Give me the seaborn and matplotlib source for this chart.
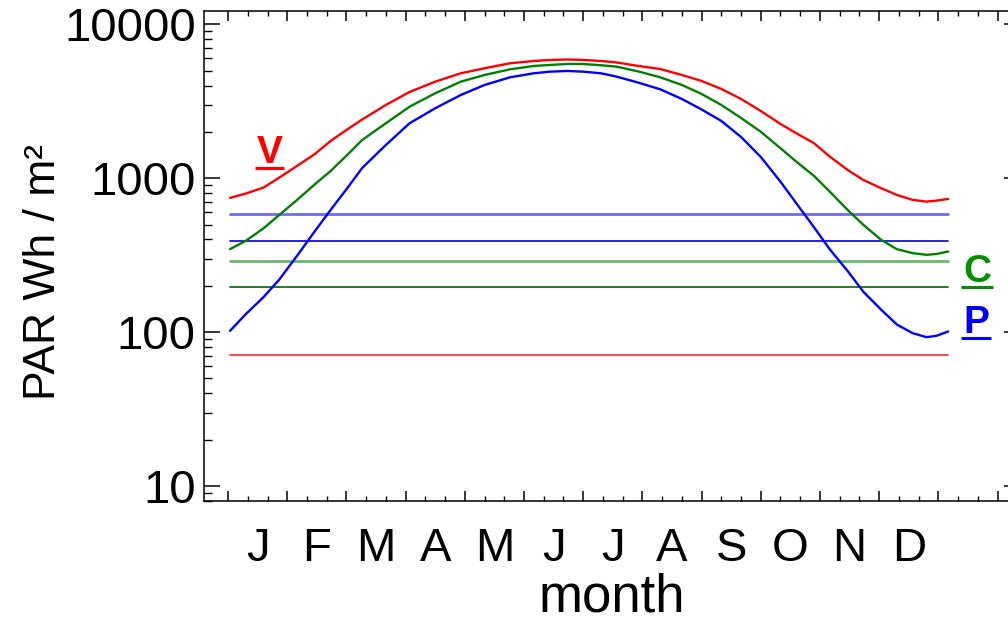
import numpy as np
import pandas as pd
import matplotlib
matplotlib.use("Agg")
import matplotlib.pyplot as plt
import seaborn as sns
from matplotlib.ticker import FixedLocator, LogLocator, NullFormatter
from matplotlib.lines import Line2D

# day of year and PAR (Wh / m2)
days = [1, 9, 18, 26, 35, 44, 52, 60, 68, 80, 92, 105, 118, 130, 143, 155, 163,
        172, 180, 189, 197, 208, 219, 230, 240, 250, 260, 270, 280, 288, 297,
        305, 314, 322, 331, 339, 347, 354, 359, 365]
par_v = [745, 795, 870, 1010, 1202, 1438, 1747, 2059, 2409, 2992, 3635, 4240,
         4806, 5180, 5583, 5777, 5865, 5908, 5865, 5777, 5649, 5361, 5125, 4686,
         4284, 3801, 3273, 2735, 2252, 1960, 1688, 1381, 1132, 975, 861, 779,
         723, 705, 715, 734]
par_c = [346, 392, 473, 578, 723, 914, 1115, 1400, 1773, 2276, 2916, 3564,
         4240, 4686, 5103, 5361, 5442, 5524, 5524, 5418, 5305, 4937, 4528, 4035,
         3527, 2992, 2464, 2004, 1566, 1282, 1035, 818, 623, 498, 398, 346,
         326, 318, 322, 334]
par_p = [102, 131, 169, 220, 314, 453, 623, 848, 1166, 1645, 2276, 2848,
         3475, 4035, 4528, 4806, 4922, 4975, 4922, 4806, 4569, 4176, 3784, 3273,
         2797, 2356, 1854, 1375, 950, 688, 480, 345, 250, 183, 140, 112,
         98.5, 92.8, 94.6, 101]

# constant threshold levels
levels = [585, 392, 292, 196, 71]
level_span = [1, 365]

months = ["J", "F", "M", "A", "M", "J", "J", "A", "S", "O", "N", "D"]
month_mid = [15 + 30 * i for i in range(12)]

curves = pd.DataFrame({
    "day": days * 3,
    "par": par_v + par_c + par_p,
    "crop": ["V"] * len(days) + ["C"] * len(days) + ["P"] * len(days),
})
palette = {"V": "#ff0000", "C": "#008000", "P": "#0000ff"}
level_styles = [("#6a6aff", 2.0), ("#0000d8", 1.2), ("#6cb86c", 2.0),
                ("#006400", 1.2), ("#ff2a2a", 1.2)]

sns.set_style("ticks")
plt.rcParams["font.family"] = ["Liberation Sans", "DejaVu Sans"]
for k in ["text.color", "axes.labelcolor", "xtick.color", "ytick.color", "axes.edgecolor"]:
    plt.rcParams[k] = "black"

fig = plt.figure(figsize=(10.08, 6.27), dpi=100)
ax = fig.add_axes([204 / 1008, (627 - 501) / 627, 816 / 1008, 490 / 627])

for lvl, (col, lw) in zip(levels, level_styles):
    sns.lineplot(x=level_span, y=[lvl, lvl], color=col, lw=lw, ax=ax)

sns.lineplot(data=curves, x="day", y="par", hue="crop", palette=palette,
             estimator=None, sort=False, lw=1.7, legend=False, ax=ax)

ax.set_yscale("log")
ax.set_ylim(8, 12200)
ax.set_xlim(-12.2, 401.4)

ax.yaxis.set_major_locator(FixedLocator([10, 100, 1000, 10000]))
ax.set_yticklabels(["10", "100", "1000", "10000"])
ax.yaxis.set_minor_locator(LogLocator(base=10, subs=np.arange(2, 10)))
ax.yaxis.set_minor_formatter(NullFormatter())
ax.tick_params(axis="y", which="major", direction="in", length=11.5, width=1.1,
               right=True, labelsize=34, pad=6)
ax.tick_params(axis="y", which="minor", direction="in", length=5.8, width=1.0,
               right=True)

ax.xaxis.set_major_locator(FixedLocator(list(range(0, 391, 30))))
ax.xaxis.set_minor_locator(FixedLocator([d for d in range(10, 400, 10) if d % 30]))
ax.set_xticklabels([])
ax.tick_params(axis="x", which="major", direction="in", length=7, width=1.1, top=True)
ax.tick_params(axis="x", which="minor", direction="in", length=3.6, width=1.0, top=True)
ax.set_xlabel("")
ax.set_ylabel("PAR Wh / m²", fontsize=32)
ax.yaxis.set_label_coords(-0.172, 0.468)

for sp in ax.spines.values():
    sp.set_linewidth(1.1)
    sp.set_color("black")

sec = ax.secondary_xaxis("bottom")
sec.set_xticks(month_mid, labels=months)
sec.tick_params(length=0, labelsize=34, pad=19)
sec.spines["bottom"].set_visible(False)
sec.set_xlabel("month", fontsize=38, labelpad=1)

# crop labels, underlined
labels = [("V", 21.0, 1256, "#ff0000"), ("C", 379.6, 212, "#009000"),
          ("P", 379.1, 98.9, "#0000ff")]
texts = []
for s, x, y, col in labels:
    t = ax.text(x, y, s, color=col, fontsize=28, fontweight="bold",
                family=["Liberation Sans Narrow", "Liberation Sans"],
                ha="center", va="baseline", clip_on=False)
    texts.append((t, x, y, col))

fig.canvas.draw()
renderer = fig.canvas.get_renderer()
W, H = fig.bbox.width, fig.bbox.height
for t, x, y, col in texts:
    bb = t.get_window_extent(renderer)
    base = ax.transData.transform((x, y))[1]
    yl = (base - 5.5) / H
    fig.add_artist(Line2D([(bb.x0 - 2) / W, (bb.x1 + 2) / W], [yl, yl],
                          color=col, lw=2.2, solid_capstyle="butt"))

fig.savefig("out.png", dpi=100)
